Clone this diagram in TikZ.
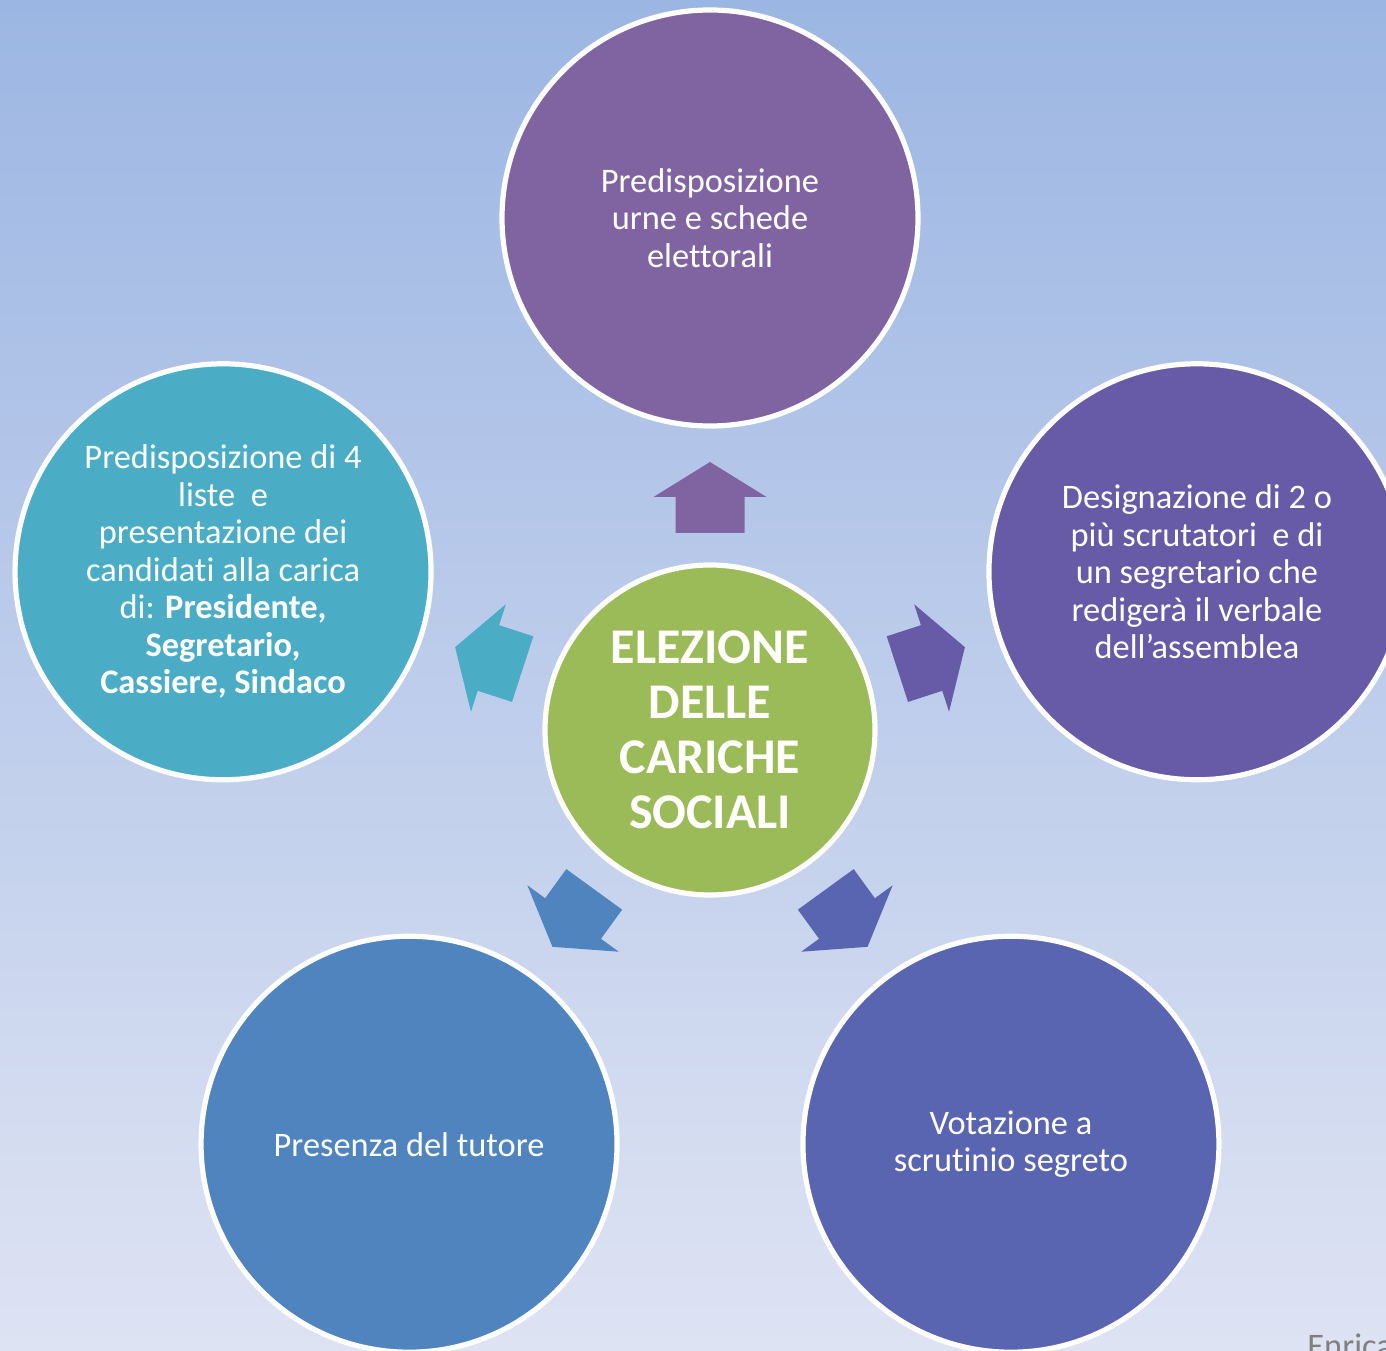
\documentclass[tikz,border=0pt]{standalone}
\usepackage{fontspec}
\setmainfont{Carlito}[Ligatures=NoCommon]
\usetikzlibrary{calc}
\definecolor{bgtop}{RGB}{156,182,227}
\definecolor{bgbot}{RGB}{222,227,243}
\definecolor{cTop}{RGB}{128,100,162}
\definecolor{cRight}{RGB}{103,91,168}
\definecolor{cBR}{RGB}{89,101,177}
\definecolor{cBL}{RGB}{79,132,190}
\definecolor{cLeft}{RGB}{75,172,198}
\definecolor{cCenter}{RGB}{155,187,89}
\definecolor{cGray}{RGB}{128,128,128}
\tikzset{
  outer/.style={circle, inner sep=0pt, minimum size=208pt, draw=white, line width=2.6pt,
    text=white, align=center, font=\fontsize{17.2}{18.75}\selectfont},
  hub/.style={circle, inner sep=0pt, minimum size=165pt, draw=white, line width=2.6pt,
    fill=cCenter, text=white, align=center, font=\bfseries\fontsize{25}{27.5}\selectfont},
  blockarrow/.style={draw=none}
}
\begin{document}
\begin{tikzpicture}[x=0.5pt,y=0.5pt]
\clip (0,0) rectangle (1386,1350);
\shade[top color=bgtop, bottom color=bgbot] (0,0) rectangle (1386,1350);

\coordinate (c) at (710,620);

% block arrows
\foreach \a/\col in {90/cTop, 18/cRight, -54/cBR, -126/cBL, 162/cLeft}{
  \fill[blockarrow, \col, shift={(c)}, rotate=\a]
    (197,-34.5) -- (233,-34.5) -- (233,-56.5) -- (268,0) -- (233,56.5) -- (233,34.5) -- (197,34.5) -- cycle;
}

\node[hub] (center) at (c) {ELEZIONE\\DELLE\\CARICHE\\SOCIALI};

\node[outer, fill=cTop] (n1) at ($(c)+(90:512)$) {Predisposizione\\urne e schede\\elettorali};
\node[outer, fill=cRight] (n2) at ($(c)+(18:512)$) {Designazione di 2 o\\più scrutatori~~e di\\un segretario che\\redigerà il verbale\\dell’assemblea};
\node[outer, fill=cBR] (n3) at ($(c)+(-54:512)$) {Votazione a\\scrutinio segreto};
\node[outer, fill=cBL] (n4) at ($(c)+(-126:512)$) {Presenza del tutore};
\node[outer, fill=cLeft] (n5) at ($(c)+(162:512)$) {Predisposizione di 4\\liste~~e\\presentazione dei\\candidati alla carica\\di: \textbf{Presidente,}\\\textbf{Segretario,}\\\textbf{Cassiere, Sindaco}};

\node[anchor=base west, inner sep=0pt, text=cGray, font=\fontsize{17.2}{18.75}\selectfont] (enrica) at (1307,-7) {Enrica};
\end{tikzpicture}
\end{document}
